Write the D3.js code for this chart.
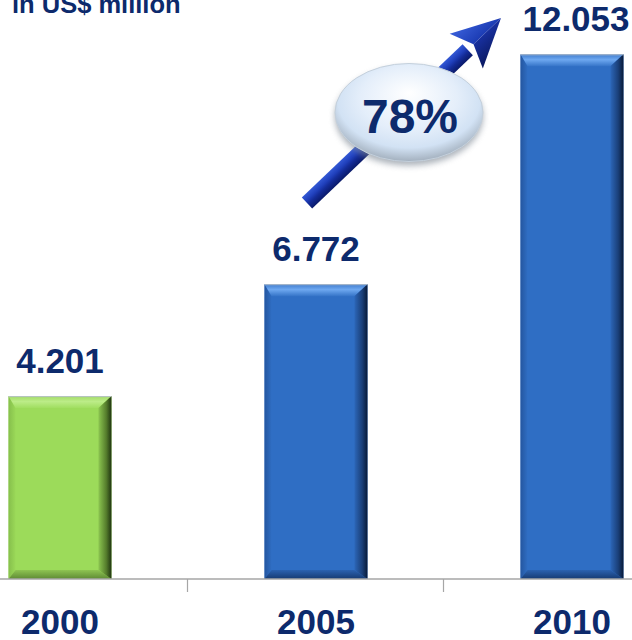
<!DOCTYPE html>
<html>
<head>
<meta charset="utf-8">
<script src="https://cdn.jsdelivr.net/npm/d3@7"></script>
<style>
  html, body { margin: 0; padding: 0; background: #fff; }
  svg { display: block; font-family: "Liberation Sans", Arial, sans-serif; }
</style>
</head>
<body>
<div id="chart"></div>
<script>
// data
const years = ["2000", "2005", "2010"];
const revenue = [4201, 6772, 12053];
const valueLabels = ["4.201", "6.772", "12.053"];
const growthLabel = "78%";
const unitLabel = "in US$ million";

const width = 632, height = 640;
const baseY = 579;
const navy = "#0d2a6c";

const svg = d3.select("#chart").append("svg")
    .attr("width", width)
    .attr("height", height);

const defs = svg.append("defs");

// scales
const x = d3.scaleBand()
    .domain(years)
    .range([-68, 700])
    .paddingInner(0.598)
    .paddingOuter(0.299);

const y = d3.scaleLinear()
    .domain([0, 13300])
    .range([baseY, 0]);

// gradient helper
function grad(id, vertical, stops) {
    const g = defs.append("linearGradient")
        .attr("id", id)
        .attr("x1", 0).attr("y1", 0)
        .attr("x2", vertical ? 0 : 1).attr("y2", vertical ? 1 : 0);
    stops.forEach(s => g.append("stop").attr("offset", s[0]).attr("stop-color", s[1]));
}

// bevel palettes
const palettes = {
    blue: { base: "#2f6ec4",
        top: [["0%", "#3f7cce"], ["45%", "#6ea8f0"], ["100%", "#3574c8"]],
        right: [["0%", "#2c66b8"], ["60%", "#1a3f78"], ["100%", "#081a38"]],
        bottom: [["0%", "#2b62b0"], ["100%", "#163a72"]],
        left: [["0%", "#2456a0"], ["100%", "#2f6dc2"]] },
    green: { base: "#9cdb5a",
        top: [["0%", "#a2dc66"], ["45%", "#bcec88"], ["100%", "#a0de60"]],
        right: [["0%", "#8cc650"], ["60%", "#557d2c"], ["100%", "#1f3410"]],
        bottom: [["0%", "#8ec452"], ["100%", "#5e8a34"]],
        left: [["0%", "#86bf4c"], ["100%", "#9ad858"]] }
};
Object.entries(palettes).forEach(([k, p]) => {
    grad(k + "-top", true, p.top);
    grad(k + "-right", false, p.right);
    grad(k + "-bottom", true, p.bottom);
    grad(k + "-left", false, p.left);
});

// bars
const bevel = { t: 12, r: 13, b: 9, l: 7 };
const bars = svg.append("g").selectAll("g")
    .data(years.map((yr, i) => ({ yr, v: revenue[i], label: valueLabels[i], pal: i === 0 ? "green" : "blue" })))
    .join("g");

bars.each(function (d) {
    const g = d3.select(this);
    const x0 = x(d.yr), x1 = x0 + x.bandwidth();
    const y0 = y(d.v), y1 = y(0);
    const ix0 = x0 + bevel.l, ix1 = x1 - bevel.r, iy0 = y0 + bevel.t, iy1 = y1 - bevel.b;
    g.append("rect")
        .attr("x", x0).attr("y", y0)
        .attr("width", x1 - x0).attr("height", y1 - y0)
        .attr("fill", palettes[d.pal].base);
    const faces = [
        ["left", [[x0, y0], [ix0, iy0], [ix0, iy1], [x0, y1]]],
        ["bottom", [[x0, y1], [ix0, iy1], [ix1, iy1], [x1, y1]]],
        ["top", [[x0, y0], [x1, y0], [ix1, iy0], [ix0, iy0]]],
        ["right", [[x1, y0], [x1, y1], [ix1, iy1], [ix1, iy0]]]
    ];
    faces.forEach(([name, pts]) => {
        g.append("polygon")
            .attr("points", pts.map(p => p.join(",")).join(" "))
            .attr("fill", `url(#${d.pal}-${name})`);
    });
    g.append("line")
        .attr("x1", x0).attr("x2", x1).attr("y1", y0 + 0.5).attr("y2", y0 + 0.5)
        .attr("stroke", "#b8c0c8").attr("stroke-width", 1);
    g.append("text")
        .attr("x", x0 + x.bandwidth() / 2 + (d.yr === "2010" ? 4 : 0))
        .attr("y", y0 - 23)
        .attr("text-anchor", "middle")
        .attr("font-size", 35)
        .attr("font-weight", "bold")
        .attr("fill", navy)
        .text(d.label);
});

// axis line and ticks between categories
svg.append("line")
    .attr("x1", 0).attr("x2", width)
    .attr("y1", baseY).attr("y2", baseY)
    .attr("stroke", "#a6a6a6").attr("stroke-width", 1.5);

svg.append("g").selectAll("line")
    .data(years.slice(1))
    .join("line")
    .attr("x1", d => x(d) - x.step() * x.paddingInner() / 2 - 0.5)
    .attr("x2", d => x(d) - x.step() * x.paddingInner() / 2 - 0.5)
    .attr("y1", baseY).attr("y2", baseY + 13)
    .attr("stroke", "#a6a6a6").attr("stroke-width", 1.2);

const axis = svg.append("g")
    .attr("transform", `translate(0,${baseY})`)
    .call(d3.axisBottom(x).tickSize(0));
axis.select(".domain").remove();
axis.selectAll("text")
    .attr("y", 55).attr("dy", 0)
    .attr("font-family", "'Liberation Sans', Arial, sans-serif")
    .attr("font-size", 35)
    .attr("font-weight", "bold")
    .attr("fill", navy);

// unit label
svg.append("text")
    .attr("x", 12).attr("y", 13)
    .attr("font-size", 25.5)
    .attr("font-weight", "bold")
    .attr("fill", navy)
    .text(unitLabel);

// growth arrow
const tail = [x("2005") + x.bandwidth() / 2 - 9, 203];
const tip = [x("2010") + x.bandwidth() / 2 - 71, 18];
const dx = tip[0] - tail[0], dy = tip[1] - tail[1];
const len = Math.hypot(dx, dy);
const ang = Math.atan2(dy, dx) * 180 / Math.PI;
const headLen = 48, headHalf = 24, shaftHalf = 7.5;

grad("shaft", true, [["0%", "#3358d4"], ["35%", "#2040bc"], ["60%", "#142c98"], ["100%", "#0a1a6a"]]);
grad("headTop", true, [["0%", "#3a60da"], ["100%", "#1c3cb4"]]);
grad("headBot", true, [["0%", "#18309f"], ["100%", "#0a185e"]]);

const arrow = svg.append("g")
    .attr("transform", `translate(${tail[0]},${tail[1]}) rotate(${ang})`);
arrow.append("rect")
    .attr("x", 0).attr("y", -shaftHalf)
    .attr("width", len - headLen + 2).attr("height", shaftHalf * 2)
    .attr("fill", "url(#shaft)");
arrow.append("polygon")
    .attr("points", [[len - headLen, -headHalf], [len, 0], [len - headLen + 10, 0]].map(p => p.join(",")).join(" "))
    .attr("fill", "url(#headTop)");
arrow.append("polygon")
    .attr("points", [[len - headLen + 10, 0], [len, 0], [len - headLen, headHalf]].map(p => p.join(",")).join(" "))
    .attr("fill", "url(#headBot)");

// growth bubble
const blur = defs.append("filter").attr("id", "soft")
    .attr("x", "-20%").attr("y", "-20%").attr("width", "140%").attr("height", "150%");
blur.append("feGaussianBlur").attr("stdDeviation", 3);

const rg = defs.append("radialGradient").attr("id", "bubble")
    .attr("cx", "50%").attr("cy", "40%").attr("r", "60%")
    .attr("fx", "50%").attr("fy", "30%");
rg.append("stop").attr("offset", "0%").attr("stop-color", "#ffffff");
rg.append("stop").attr("offset", "55%").attr("stop-color", "#e4eefa");
rg.append("stop").attr("offset", "80%").attr("stop-color", "#d2e2f4");
rg.append("stop").attr("offset", "100%").attr("stop-color", "#a3b0be");

const cx = (tail[0] + tip[0]) / 2 + 5, cy = (tail[1] + tip[1]) / 2 + 2;
svg.append("ellipse")
    .attr("cx", cx).attr("cy", cy + 4)
    .attr("rx", 74).attr("ry", 49)
    .attr("fill", "#7e8894").attr("opacity", 0.65)
    .attr("filter", "url(#soft)");
svg.append("ellipse")
    .attr("cx", cx).attr("cy", cy)
    .attr("rx", 74).attr("ry", 49)
    .attr("fill", "url(#bubble)")
    .attr("stroke", "#c4d0dc").attr("stroke-width", 1);
svg.append("text")
    .attr("x", cx + 1).attr("y", cy + 20)
    .attr("text-anchor", "middle")
    .attr("font-size", 48)
    .attr("font-weight", "bold")
    .attr("fill", navy)
    .text(growthLabel);
</script>
</body>
</html>
